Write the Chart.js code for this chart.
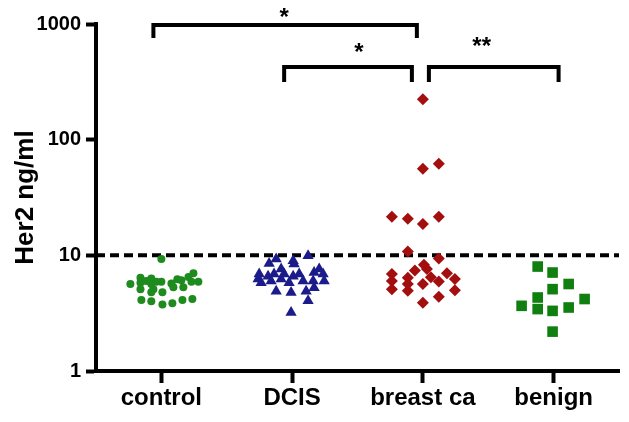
<!DOCTYPE html>
<html><head><meta charset="utf-8">
<script src="https://cdn.jsdelivr.net/npm/chart.js@4.4.1/dist/chart.umd.min.js"></script>
<style>html,body{margin:0;padding:0;background:#fff}</style>
</head><body>
<canvas id="c" width="629" height="422" style="width:629px;height:422px;display:block"></canvas>
<script>
// ---- data ----
const categories = ['control', 'DCIS', 'breast ca', 'benign'];
const yTickValues = [1, 10, 100, 1000];
const cutoffValue = 10;

const controlValues = [9.3,7.0,5.65,6.4,5.8,5.1,6.3,5.65,5.1,4.8,5.9,4.8,5.7,5.3,6.1,5.3,5.9,5.9,4.1,4.0,3.75,3.85,4.1,4.2,6.0,5.9,6.2,6.5];
const controlJitter = [0.0,0.245,-0.237,-0.16,-0.16,-0.16,-0.077,-0.077,-0.061,-0.077,0,0.008,0.077,0.092,0.153,0.168,0.23,0.283,-0.153,-0.077,0.008,0.084,0.161,0.237,-0.115,-0.038,0.122,0.207];

const dcisValues = [9.9,9.3,9.0,8.5,8.4,6.9,6.24,6.6,6.9,6.9,6.6,6.9,7.1,6.9,5.8,6.0,6.24,5.8,6.0,6.0,6.0,4.9,4.77,4.9,5.25,4.05,3.2,7.6,7.6];
const dcisJitter = [0.122,-0.122,0.008,-0.176,0.015,-0.252,-0.26,-0.184,-0.138,-0.061,0.008,0.054,0.168,0.237,-0.237,-0.161,-0.084,-0.023,0.084,0.161,0.245,-0.122,-0.008,0.107,0.168,0.122,-0.008,0.207,-0.084];

const breastValues = [224,56,62,21.6,20.7,18.7,21.6,10.8,9.4,8.3,7.6,7.4,6.9,6.0,5.1,6.4,5.65,4.94,6.45,5.65,5.95,7.0,6.24,5.0,4.38,3.9];
const breastJitter = [0,0,0.122,-0.237,-0.115,0,0.122,-0.115,0.122,0.008,0.031,-0.061,-0.237,-0.237,-0.237,-0.115,-0.115,-0.115,0.061,0,0.122,0.184,0.245,0.245,0.122,0];

const benignValues = [8.0,7.1,5.1,5.65,4.32,3.66,3.43,3.31,3.54,4.19,2.19];
const benignJitter = [-0.122,-0.008,-0.008,0.115,-0.122,-0.245,-0.122,-0.008,0.115,0.237,-0.008];

const sigPairs = [[1, 3], [2, 3], [3, 4]];
const sigLabels = ['*', '*', '**'];

// ---- chart ----
const FONT = "'Liberation Sans', Arial, Helvetica, sans-serif";

function groupDataset(name, values, jitter, groupIndex, style, color, radius) {
  return {
    type: 'scatter',
    label: name,
    data: values.map((v, i) => ({ x: groupIndex + 1 + jitter[i], y: v })),
    pointStyle: style,
    backgroundColor: color,
    borderColor: color,
    pointBorderWidth: 0,
    pointRadius: radius,
    pointHoverRadius: radius,
    order: 1
  };
}

const sigPlugin = {
  id: 'sig',
  afterDatasetsDraw(chart, args, opts) {
    const { ctx } = chart;
    const xs = chart.scales.x, ys = chart.scales.y;
    ctx.save();
    ctx.strokeStyle = '#000';
    ctx.fillStyle = '#000';
    ctx.lineWidth = 4;
    ctx.lineJoin = 'miter';
    ctx.lineCap = 'butt';
    sigPairs.forEach((p, i) => {
      const x1 = xs.getPixelForValue(p[0] + opts.insetLeft[i]);
      const x2 = xs.getPixelForValue(p[1] + opts.insetRight[i]);
      const yt = ys.getPixelForValue(opts.levels[i]);
      const yb = yt + opts.drop[i];
      ctx.beginPath();
      ctx.moveTo(x1, yb); ctx.lineTo(x1, yt); ctx.lineTo(x2, yt); ctx.lineTo(x2, yb);
      ctx.stroke();
      ctx.font = 'bold 24px ' + FONT;
      ctx.textAlign = 'center';
      ctx.textBaseline = 'alphabetic';
      const lx = xs.getPixelForValue(opts.labelX[i]);
      const ly = yt - opts.labelRise[i];
      ctx.fillText(sigLabels[i], lx, ly + 14);
    });
    ctx.restore();
  }
};

const chart = new Chart(document.getElementById('c'), {
  data: {
    datasets: [
      {
        type: 'line',
        label: 'cutoff',
        data: [{ x: 0.5, y: cutoffValue }, { x: 4.5, y: cutoffValue }],
        borderColor: '#000',
        borderWidth: 4,
        borderDash: [9, 5],
        pointRadius: 0,
        fill: false,
        order: 5
      },
      groupDataset(categories[0], controlValues, controlJitter, 0, 'circle', '#1d8b1d', 4),
      groupDataset(categories[1], dcisValues, dcisJitter, 1, 'triangle', '#1b1b8a', 6.5),
      groupDataset(categories[2], breastValues, breastJitter, 2, 'rectRot', '#a30f0f', 6),
      groupDataset(categories[3], benignValues, benignJitter, 3, 'rect', '#0f7f0f', 7.5)
    ]
  },
  options: {
    responsive: false,
    animation: false,
    devicePixelRatio: 1,
    layout: { padding: { top: 24, right: 10, left: 0, bottom: 0 } },
    plugins: {
      legend: { display: false },
      tooltip: { enabled: false },
      sig: {
        insetLeft: [-0.061, -0.061, 0.046],
        insetRight: [-0.046, -0.084, 0.038],
        levels: [980, 424, 424],
        drop: [13, 15, 15],
        labelX: [1.94, 2.51, 3.45],
        labelRise: [14, 21, 27]
      }
    },
    scales: {
      x: {
        type: 'linear',
        min: 0.5,
        max: 4.5,
        afterBuildTicks: s => { s.ticks = categories.map((c, i) => ({ value: i + 1 })); },
        afterFit: s => { s.height = 51; },
        ticks: {
          callback: v => categories[v - 1],
          color: '#000',
          font: { family: FONT, size: 24, weight: 'bold' },
          padding: 1,
          maxRotation: 0,
          autoSkip: false
        },
        grid: { drawOnChartArea: false, drawTicks: true, tickLength: 12, tickWidth: 4, tickColor: '#000' },
        border: { display: true, width: 4, color: '#000' }
      },
      y: {
        type: 'logarithmic',
        min: 1,
        max: 1000,
        afterBuildTicks: s => { s.ticks = yTickValues.map(v => ({ value: v })); },
        afterFit: s => { s.width = 96; },
        ticks: {
          callback: v => String(v),
          color: '#000',
          font: { family: FONT, size: 20, weight: 'bold' },
          padding: 5,
          autoSkip: false
        },
        grid: { drawOnChartArea: false, drawTicks: true, tickLength: 10, tickWidth: 4, tickColor: '#000' },
        border: { display: true, width: 4, color: '#000' },
        title: {
          display: true,
          text: 'Her2 ng/ml',
          color: '#000',
          font: { family: FONT, size: 26, weight: 'bold' },
          padding: { top: 10, bottom: 0 }
        }
      }
    }
  },
  plugins: [sigPlugin]
});
</script>
</body></html>
